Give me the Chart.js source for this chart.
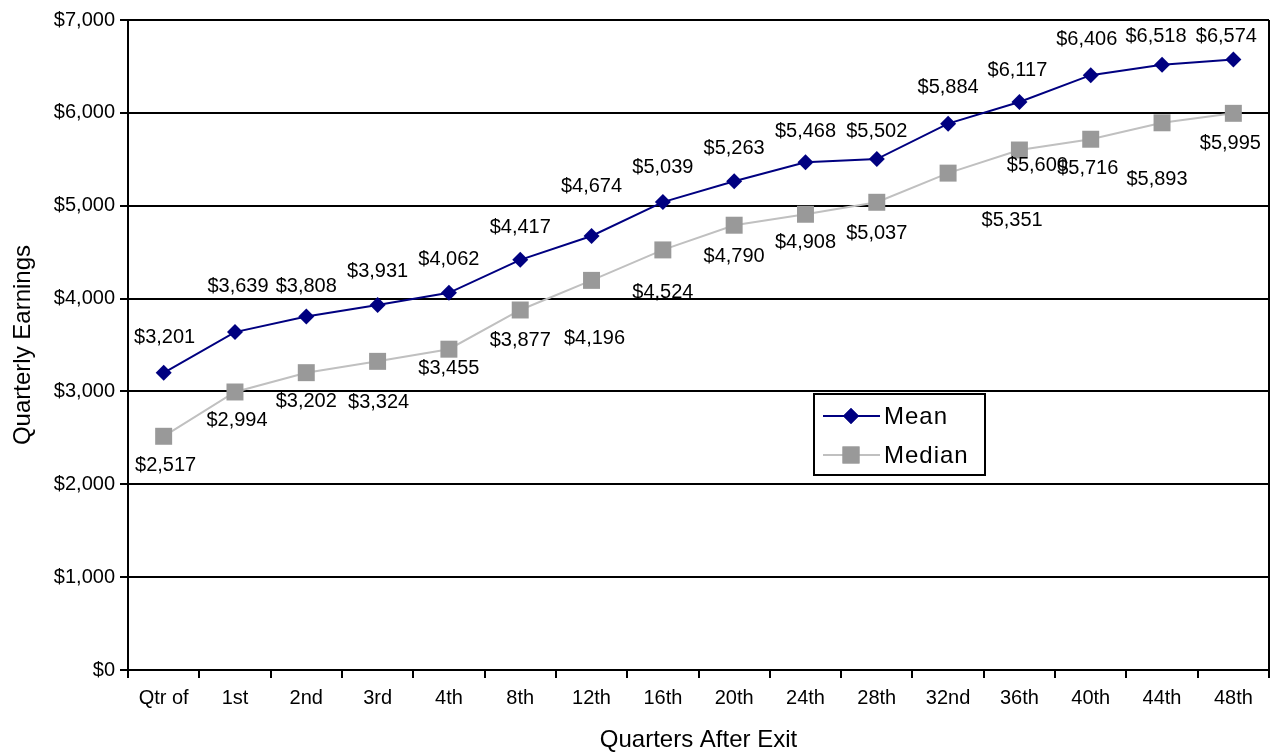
<!DOCTYPE html>
<html>
<head>
<meta charset="utf-8">
<script src="https://cdn.jsdelivr.net/npm/chart.js@4.4.1/dist/chart.umd.min.js"></script>
<style>
  html, body { margin: 0; padding: 0; background: #fff; overflow: hidden; }
  canvas { display: block; }
</style>
</head>
<body>
<canvas id="myChart" width="1281" height="752"></canvas>
<script>
// data
const quarters = ["Qtr of", "1st", "2nd", "3rd", "4th", "8th", "12th", "16th", "20th", "24th", "28th", "32nd", "36th", "40th", "44th", "48th"];
const meanValues = [3201, 3639, 3808, 3931, 4062, 4417, 4674, 5039, 5263, 5468, 5502, 5884, 6117, 6406, 6518, 6574];
const medianValues = [2517, 2994, 3202, 3324, 3455, 3877, 4196, 4524, 4790, 4908, 5037, 5351, 5600, 5716, 5893, 5995];

// where each value label sits relative to its point (the original labels were nudged by hand)
const meanLabelDx = [1, 3, 0, 0, 0, 0, 0, 0, 0, 0, 0, 0, -2, -4, -6, -7];
const meanLabelDy = [-35, -46, -30, -33, -33, -32, -50, -35, -33, -31, -28, -36, -32, -36, -28, -23];
const medianLabelDx = [2, 2, 0, 1, 0, 0, 3, 0, 0, 0, 0, 64, 18, -3, -5, -3];
const medianLabelDy = [29, 28, 29, 41, 19, 30, 58, 43, 31, 28, 31, 47, 15, 29, 57, 30];

const FONT = "'Liberation Sans', Arial, sans-serif";

const fmt = v => "$" + v.toLocaleString("en-US");

const valueLabels = {
  id: "valueLabels",
  afterDatasetsDraw(chart) {
    const c = chart.ctx;
    c.save();
    c.font = "20px " + FONT;
    c.fillStyle = "#000";
    c.textAlign = "center";
    c.textBaseline = "middle";
    chart.data.datasets.forEach((ds, i) => {
      const dx = i === 0 ? meanLabelDx : medianLabelDx;
      const dy = i === 0 ? meanLabelDy : medianLabelDy;
      chart.getDatasetMeta(i).data.forEach((pt, j) => {
        c.fillText(fmt(ds.data[j]), pt.x + dx[j], pt.y + dy[j]);
      });
    });
    c.restore();
  }
};

// right edge of the plot + the boxed legend
const frameAndLegend = {
  id: "frameAndLegend",
  afterDraw(chart) {
    const c = chart.ctx;
    const a = chart.chartArea;
    c.save();
    c.strokeStyle = "#000";
    c.lineWidth = 2;
    c.beginPath();
    c.moveTo(a.right, a.top);
    c.lineTo(a.right, a.bottom);
    c.stroke();

    // legend box
    const lx = 814, ly = 394, lw = 171, lh = 81;
    c.fillStyle = "#fff";
    c.fillRect(lx, ly, lw, lh);
    c.strokeRect(lx, ly, lw, lh);

    const rows = [
      { name: "Mean", y: 416, line: "#000080", fill: "#000080", style: "rectRot", r: 8 },
      { name: "Median", y: 455, line: "#c0c0c0", fill: "#999999", style: "rect", r: 12 }
    ];
    rows.forEach(row => {
      c.strokeStyle = row.line;
      c.lineWidth = 2;
      c.beginPath();
      c.moveTo(823, row.y);
      c.lineTo(880, row.y);
      c.stroke();
      c.fillStyle = row.fill;
      Chart.helpers.drawPoint(c, { pointStyle: row.style, radius: row.r, borderWidth: 0 }, 851, row.y);
      c.fill();
      c.fillStyle = "#000";
      c.font = "24px " + FONT;
      c.letterSpacing = "1px";
      c.textAlign = "left";
      c.textBaseline = "middle";
      c.fillText(row.name, 884, row.y + 1);
      c.letterSpacing = "0px";
    });
    c.restore();
  }
};

const ctx = document.getElementById("myChart").getContext("2d");

const config = {
  type: "line",
  data: {
    labels: quarters,
    datasets: [{
      label: "Mean",
      data: meanValues,
      borderColor: "#000080",
      backgroundColor: "#000080",
      borderWidth: 2,
      pointStyle: "rectRot",
      pointRadius: 8,
      pointBorderWidth: 0,
      tension: 0
    }, {
      label: "Median",
      data: medianValues,
      borderColor: "#c0c0c0",
      backgroundColor: "#999999",
      pointBackgroundColor: "#999999",
      borderWidth: 2,
      pointStyle: "rect",
      pointRadius: 12,
      pointBorderWidth: 0,
      tension: 0
    }]
  },
  options: {
    responsive: false,
    animation: false,
    layout: { padding: { top: 20, right: 9, left: 0, bottom: 0 } },
    plugins: {
      legend: { display: false },
      tooltip: { enabled: false }
    },
    scales: {
      x: {
        offset: true,
        afterFit: s => { s.height = 82; s.paddingLeft = 0; s.paddingRight = 0; },
        grid: { display: true, offset: true, drawOnChartArea: false, drawTicks: true, tickLength: 8, color: "#000", lineWidth: 2 },
        border: { display: true, color: "#000", width: 2 },
        ticks: { color: "#000", padding: 8, autoSkip: false, maxRotation: 0, font: { size: 20, family: FONT } },
        title: { display: true, text: "Quarters After Exit", color: "#000", padding: { top: 10, bottom: -3 }, font: { size: 24, family: FONT } }
      },
      y: {
        min: 0,
        max: 7000,
        afterFit: s => { s.width = 128; },
        grid: { color: "#000", lineWidth: 2, tickLength: 8 },
        border: { display: true, color: "#000", width: 2 },
        ticks: { stepSize: 1000, color: "#000", padding: 5, font: { size: 20, family: FONT }, callback: v => fmt(v) },
        title: { display: true, text: "Quarterly Earnings", color: "#000", padding: { top: 9, bottom: 0 }, font: { size: 24, family: FONT } }
      }
    }
  },
  plugins: [valueLabels, frameAndLegend]
};

window.myChart = new Chart(ctx, config);
</script>
</body>
</html>
